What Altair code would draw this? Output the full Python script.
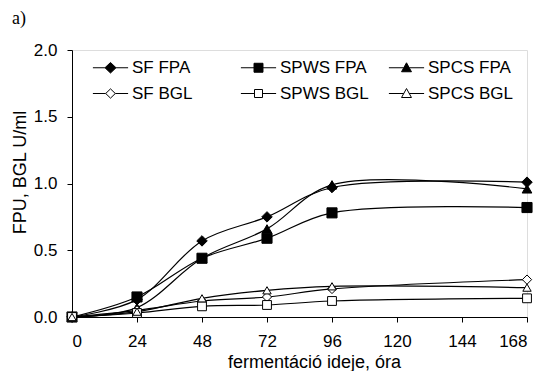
import altair as alt
import pandas as pd

hours = [0, 24, 48, 72, 96, 168]
series_names = ["SF FPA", "SPWS FPA", "SPCS FPA", "SF BGL", "SPWS BGL", "SPCS BGL"]
sf_fpa = [0.0, 0.13, 0.57, 0.75, 0.97, 1.01]
spws_fpa = [0.0, 0.15, 0.44, 0.59, 0.78, 0.82]
spcs_fpa = [0.0, 0.07, 0.44, 0.66, 0.99, 0.96]
sf_bgl = [0.0, 0.05, 0.12, 0.15, 0.21, 0.28]
spws_bgl = [0.0, 0.03, 0.08, 0.09, 0.12, 0.14]
spcs_bgl = [0.0, 0.04, 0.14, 0.20, 0.23, 0.22]
x_ticks = [0, 24, 48, 72, 96, 120, 144, 168]
y_ticks = [0.0, 0.5, 1.0, 1.5, 2.0]

values = [sf_fpa, spws_fpa, spcs_fpa, sf_bgl, spws_bgl, spcs_bgl]
rows = []
for name, vals in zip(series_names, values):
    for h, v in zip(hours, vals):
        rows.append({"series": name, "hour": h, "value": v})
df = pd.DataFrame(rows)

FONT = "Liberation Sans"
fills = ["black", "black", "black", "white", "white", "white"]
strokes = ["black"] * 6
point_shapes = ["diamond", "square", "triangle-up", "diamond", "square", "triangle-up"]
point_sizes = [110, 70, 85, 90, 64, 85]

legend_paths = [
    "M-2.2,0H-0.69M0.69,0H2.2M-0.69,0L0,-0.66L0.69,0L0,0.66Z",
    "M-2.2,0H-0.56M0.56,0H2.2M-0.56,-0.56H0.56V0.56H-0.56Z",
    "M-2.2,0H-0.35M0.35,0H2.2M-0.62,0.5L0.62,0.5L0,-0.62Z",
    "M-2.2,0H-0.6M0.6,0H2.2M-0.6,0L0,-0.58L0.6,0L0,0.58Z",
    "M-2.2,0H-0.5M0.5,0H2.2M-0.5,-0.5H0.5V0.5H-0.5Z",
    "M-2.2,0H-0.35M0.35,0H2.2M-0.62,0.5L0.62,0.5L0,-0.62Z",
]

x_enc = alt.X(
    "hour:Q",
    scale=alt.Scale(domain=[0, 168], nice=False),
    axis=alt.Axis(
        values=x_ticks, title="fermentáció ideje, óra", grid=False,
        labelFont=FONT, labelFontSize=17, labelColor="black",
        titleFont=FONT, titleFontSize=18, titleFontWeight="normal", titleColor="black",
        domainColor="black", tickColor="black", tickSize=5, labelPadding=11,
        titleX=242, titleY=50, titleBaseline="alphabetic",
    ),
)
y_enc = alt.Y(
    "value:Q",
    scale=alt.Scale(domain=[0, 2], nice=False),
    axis=alt.Axis(
        values=y_ticks, format=".1f", title="FPU, BGL U/ml", grid=False,
        labelFont=FONT, labelFontSize=17, labelColor="black",
        titleFont=FONT, titleFontSize=18, titleFontWeight="normal", titleColor="black",
        domainColor="black", tickColor="black", tickSize=5, labelPadding=10,
        titleX=-47, titleY=122, titleBaseline="alphabetic",
    ),
)

base = alt.Chart(df)

lines = base.mark_line(color="black", strokeWidth=1.2, interpolate="catmull-rom").encode(
    x=x_enc, y=y_enc, detail="series:N"
)

points = base.mark_point(filled=False, stroke="black", strokeWidth=1, opacity=1).encode(
    x="hour:Q",
    y="value:Q",
    shape=alt.Shape("series:N", scale=alt.Scale(domain=series_names, range=point_shapes), legend=None),
    fill=alt.Fill("series:N", scale=alt.Scale(domain=series_names, range=fills), legend=None),
    size=alt.Size("series:N", scale=alt.Scale(domain=series_names, range=point_sizes), legend=None),
)

leg = alt.Legend(
    title=None, orient="none", legendX=30, legendY=9, columns=3, direction="horizontal",
    gridAlign="all", columnPadding=17, rowPadding=8, padding=0,
    labelFont=FONT, labelFontSize=17, labelColor="black", labelOffset=13,
    symbolStrokeColor="black", symbolStrokeWidth=1, symbolSize=256, symbolOpacity=1,
)

legend_layer = base.mark_point(strokeWidth=1, opacity=1, size=256).encode(
    x="hour:Q",
    y="value:Q",
    shape=alt.Shape("series:N", scale=alt.Scale(domain=series_names, range=legend_paths), legend=leg),
    fill=alt.Fill("series:N", scale=alt.Scale(domain=series_names, range=fills), legend=leg),
    stroke=alt.Stroke("series:N", scale=alt.Scale(domain=series_names, range=strokes), legend=leg),
).transform_filter("false")

chart = alt.layer(lines, points, legend_layer).resolve_scale(
    shape="independent", fill="independent", size="independent", stroke="independent"
).properties(
    width=455, height=267,
    autosize=alt.AutoSizeParams(type="none"),
    padding={"left": 64, "top": 42, "right": 8, "bottom": 54},
    title=alt.TitleParams("a)", anchor="start", frame="group", dx=-60, offset=13,
                          font="Liberation Serif", fontSize=18, fontWeight="normal", color="black"),
).configure_view(stroke="#999999", strokeWidth=1).configure(background="white")

chart.save("out.html", embed_options={"renderer": "svg", "actions": False})
